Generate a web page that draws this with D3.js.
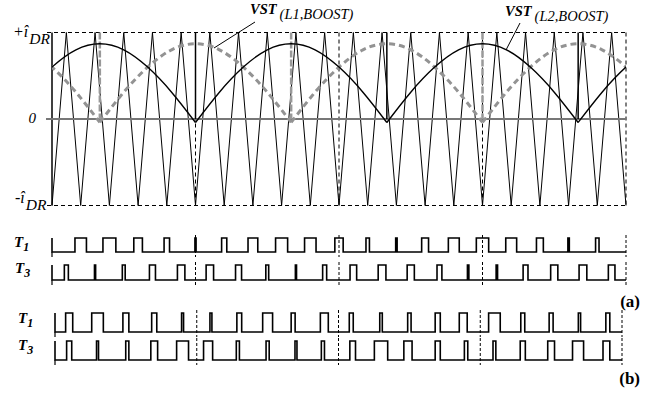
<!DOCTYPE html>
<html><head><meta charset="utf-8">
<script src="https://cdn.jsdelivr.net/npm/d3@7"></script>
<style>
body{margin:0;background:#fff}
svg{display:block}
text{font-family:"Liberation Serif","Times New Roman",serif;fill:#000}
</style>
</head><body>
<svg id="chart" width="666" height="394"></svg>
<script>
// ---- data (time in carrier periods, amplitude in units of i_DR) ----
const carrierPeriods = 20;
const carrierLevels = [-1, 1];
const gridTimes = [5, 10, 15, 20];
// zero crossings of the rectified references
const vstL2Zeros = [-1.667, 5, 11.667, 18.333, 25];      // solid black
const vstL1Zeros = [-5, 1.667, 8.333, 15, 21.667];       // dashed grey
// one rectified half-wave, sampled at eighths of the arc
const arcProfile = [-0.04, 0.31, 0.60, 0.80, 0.87, 0.80, 0.60, 0.31, -0.04];

// gate signals: pulse centres and widths (carrier periods)
const t1aCenters = [1,2,3,4,5,6,7,8,9,10,11,12,13,14,15,16,17,18,19];
const t1aWidths  = [0.40,0.45,0.30,0.19,0.04,0.18,0.34,0.42,0.40,0.29,0.12,0.05,0.24,0.38,0.43,0.38,0.24,0.05,0.12];
const t3aCenters = [0.5,1.5,2.5,3.5,4.5,5.5,6.5,7.5,8.5,9.5,10.5,11.5,12.5,13.5,14.5,15.5,16.5,17.5,18.5,19.5];
const t3aWidths  = [0.14,0.04,0.10,0.21,0.26,0.26,0.21,0.10,0.04,0.14,0.23,0.27,0.25,0.17,0.05,0.05,0.17,0.25,0.27,0.23];
const t1bCenters = [0.5,1.5,2.5,3.5,4.5,5.5,6.5,7.5,8.4,9.5,10.45,11.5,12.5,13.5,14.4,15.5,16.5,17.5,18.5,19.5];
const t1bWidths  = [0.25,0.41,0.21,0.18,0.07,0.07,0.17,0.35,0.14,0.28,0.14,0.09,0.12,0.18,0.28,0.41,0.14,0.14,0.08,0.14];
const t3bCenters = [0.5,1.5,2.55,3.5,4.5,5.4,6.45,7.5,8.5,9.45,10.5,11.5,12.45,13.5,14.5,15.5,16.5,17.5,18.45,19.45];
const t3bWidths  = [0.18,0.07,0.11,0.24,0.42,0.32,0.11,0.11,0.07,0.11,0.20,0.47,0.29,0.18,0.12,0.10,0.18,0.24,0.39,0.24];

const svg = d3.select("#chart");

// ---- scales ----
const xA = d3.scaleLinear().domain([0, carrierPeriods]).range([52, 626]);
const xB = d3.scaleLinear().domain([0, carrierPeriods]).range([55, 622]);
const y  = d3.scaleLinear().domain([-1, 1]).range([205.5, 32.5]);

svg.append("defs").append("clipPath").attr("id", "plotClip")
  .append("rect").attr("x", xA(0)).attr("y", 0).attr("width", xA(20) - xA(0)).attr("height", 240);

const plot = svg.append("g");

// triangular carrier
const carrierPts = [];
for (let k = 0; k <= carrierPeriods * 2; k++) {
  carrierPts.push([k / 2, carrierLevels[k % 2]]);
}
plot.append("path")
  .attr("d", d3.line().x(d => xA(d[0])).y(d => y(d[1]))(carrierPts))
  .attr("fill", "none").attr("stroke", "#000").attr("stroke-width", 1)
  .attr("stroke-linejoin", "miter");

// dashed limits +i_DR / -i_DR and vertical divisions
[1, -1].forEach(v => {
  plot.append("line").attr("x1", 47).attr("x2", xA(20)).attr("y1", y(v)).attr("y2", y(v))
    .attr("stroke", "#000").attr("stroke-width", 1).attr("stroke-dasharray", "4,3");
});
gridTimes.forEach(t => {
  plot.append("line").attr("x1", xA(t)).attr("x2", xA(t)).attr("y1", y(1)).attr("y2", y(-1))
    .attr("stroke", "#000").attr("stroke-width", 1).attr("stroke-dasharray", "4,3");
});
// vertical axis
plot.append("line").attr("x1", xA(0)).attr("x2", xA(0)).attr("y1", y(1)).attr("y2", y(-1))
  .attr("stroke", "#000").attr("stroke-width", 1.5);

// zero line
plot.append("line").attr("x1", 46).attr("x2", xA(20)).attr("y1", y(0)).attr("y2", y(0))
  .attr("stroke", "#777").attr("stroke-width", 2);

// markers at the reference zero crossings
vstL1Zeros.filter(z => z > 0 && z < 20).forEach(z => {
  plot.append("line").attr("x1", xA(z)).attr("x2", xA(z)).attr("y1", y(1)).attr("y2", y(0))
    .attr("stroke", "#999").attr("stroke-width", 2.5).attr("stroke-dasharray", "7,2");
});
vstL2Zeros.filter(z => z > 0 && z < 20).forEach(z => {
  plot.append("line").attr("x1", xA(z)).attr("x2", xA(z)).attr("y1", y(1)).attr("y2", y(0))
    .attr("stroke", "#000").attr("stroke-width", 1.5);
});

// rectified references
function arcs(zeros) {
  const out = [];
  for (let i = 0; i < zeros.length - 1; i++) {
    const z0 = zeros[i], z1 = zeros[i + 1];
    out.push(arcProfile.map((v, j) => [z0 + (z1 - z0) * j / (arcProfile.length - 1), v]));
  }
  return out;
}
const refLine = d3.line().x(d => xA(d[0])).y(d => y(d[1])).curve(d3.curveNatural);
const refs = plot.append("g").attr("clip-path", "url(#plotClip)");
arcs(vstL1Zeros).forEach(a => {
  refs.append("path").attr("d", refLine(a)).attr("fill", "none")
    .attr("stroke", "#939393").attr("stroke-width", 3).attr("stroke-dasharray", "6,4");
});
arcs(vstL2Zeros).forEach(a => {
  refs.append("path").attr("d", refLine(a)).attr("fill", "none")
    .attr("stroke", "#000").attr("stroke-width", 1.4);
});

// leader lines
plot.append("line").attr("x1", 255).attr("y1", 22).attr("x2", 214).attr("y2", 48)
  .attr("stroke", "#000").attr("stroke-width", 1);
plot.append("line").attr("x1", 520).attr("y1", 23).attr("x2", 506).attr("y2", 50)
  .attr("stroke", "#000").attr("stroke-width", 1);

// ---- text ----
function vstLabel(x, yb, sub) {
  const t = svg.append("text").attr("x", x).attr("y", yb).attr("font-size", 14.5);
  t.append("tspan").attr("font-weight", "bold").attr("font-style", "italic").text("VST");
  t.append("tspan").attr("font-style", "italic").attr("dx", 3).attr("dy", 5).attr("font-size", 14.5).text(sub);
}
vstLabel(250, 14, "(L1,BOOST)");
vstLabel(505, 16, "(L2,BOOST)");

function levelLabel(xs, yb, sign) {
  const t = svg.append("text").attr("x", xs).attr("y", yb).attr("font-size", 16).attr("font-style", "italic");
  t.append("tspan").text(sign + "\u00ee");
  t.append("tspan").attr("dy", 7).attr("dx", 1).attr("font-size", 15.5).text("DR");
}
levelLabel(13, 37, "+");
levelLabel(15, 203, "-");
svg.append("text").attr("x", 36).attr("y", 123).attr("text-anchor", "end")
  .attr("font-size", 15).attr("font-style", "italic").text("0");

// ---- gate signals ----
function gateRow(x, yHi, yLo, centers, widths, name, lx, ly) {
  const pts = [[x(0), yHi], [x(0), yLo]];
  centers.forEach((c, i) => {
    const w = widths[i];
    pts.push([x(c - w / 2), yLo], [x(c - w / 2), yHi], [x(c + w / 2), yHi], [x(c + w / 2), yLo]);
  });
  pts.push([x(carrierPeriods), yLo]);
  svg.append("path").attr("d", d3.line()(pts)).attr("fill", "none")
    .attr("stroke", "#000").attr("stroke-width", 1.6).attr("stroke-linejoin", "miter");
  svg.append("line").attr("x1", x(0)).attr("x2", x(0)).attr("y1", yLo).attr("y2", yLo + 5)
    .attr("stroke", "#000").attr("stroke-width", 1.2);
  gridTimes.forEach(t => {
    svg.append("line").attr("x1", x(t)).attr("x2", x(t)).attr("y1", yHi - 3).attr("y2", yLo + 5)
      .attr("stroke", "#000").attr("stroke-width", 1).attr("stroke-dasharray", "3,2");
  });
  const tl = svg.append("text").attr("x", lx).attr("y", ly).attr("font-size", 15)
    .attr("font-weight", "bold").attr("font-style", "italic");
  tl.append("tspan").text("T");
  tl.append("tspan").attr("font-size", 12).attr("dy", 4).text(name);
}
gateRow(xA, 238, 252, t1aCenters, t1aWidths, "1", 14, 247);
gateRow(xA, 265, 280, t3aCenters, t3aWidths, "3", 15, 273);
gateRow(xB, 313, 332, t1bCenters, t1bWidths, "1", 18, 323);
gateRow(xB, 341, 360, t3bCenters, t3bWidths, "3", 18, 350);

svg.append("text").attr("x", 640).attr("y", 307).attr("text-anchor", "end")
  .attr("font-size", 17).attr("font-weight", "bold").text("(a)");
svg.append("text").attr("x", 640).attr("y", 384).attr("text-anchor", "end")
  .attr("font-size", 17).attr("font-weight", "bold").text("(b)");
</script>
</body></html>
